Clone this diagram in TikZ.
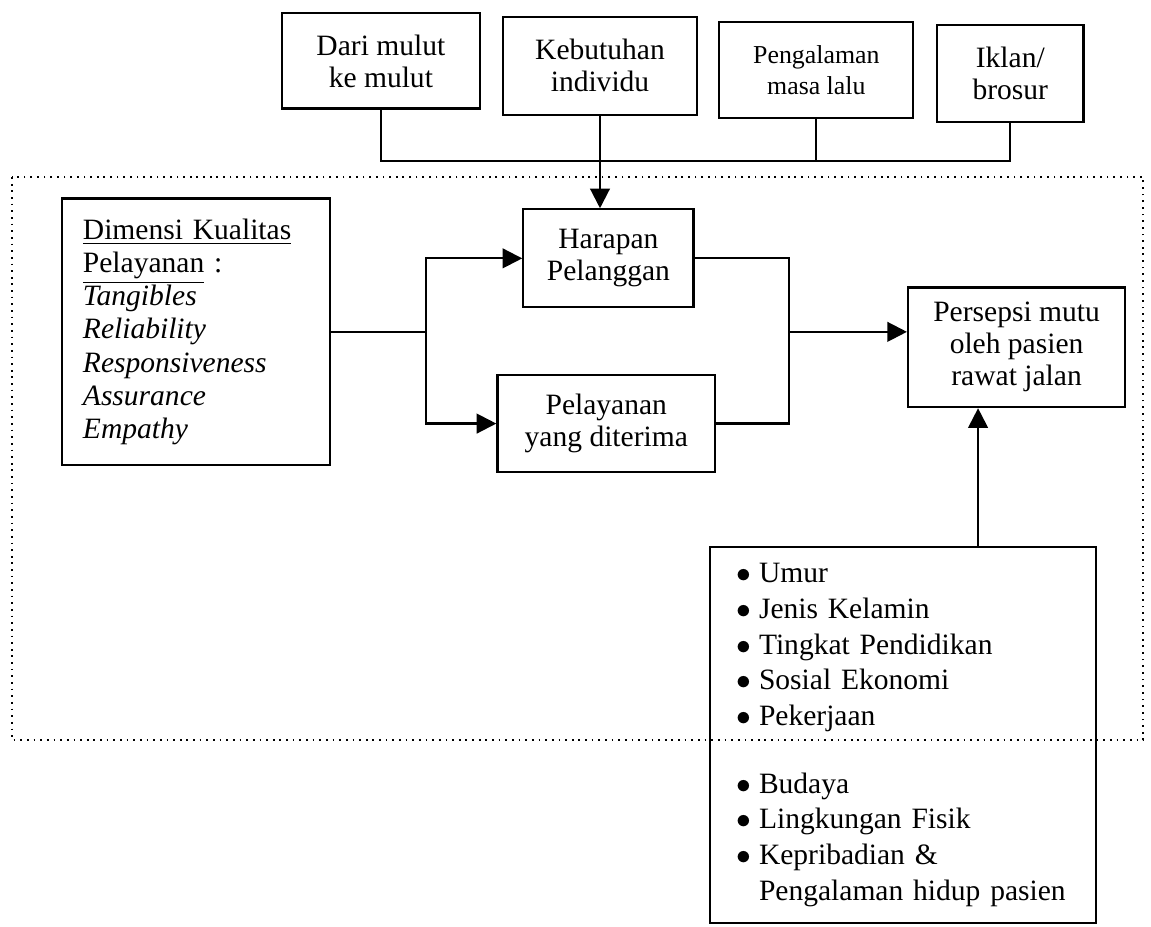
\documentclass[tikz,border=0pt]{standalone}
\usepackage{fontspec}
\setmainfont{Liberation Serif}
\usepackage{tikz}
\usetikzlibrary{arrows.meta, positioning}
\tikzset{
    box/.style={rectangle, draw, line width=0.9pt, align=center, inner sep=2pt, font=\fontsize{12}{13}\selectfont},
    line/.style={line width=0.9pt},
    arrow/.style={line width=0.9pt, -{Triangle[length=8pt, width=8pt]}},
    frame/.style={dotted, line width=0.7pt}
}
\newcommand{\butir}{$\bullet$\hspace{3pt}}

\begin{document}
\begin{tikzpicture}
        \useasboundingbox (0,0) rectangle (16.44,-13.24);

        % Sources
        \node (mulut) [box, minimum width=2.83cm, minimum height=1.36cm] at (5.44, -0.87) {Dari mulut\\ke mulut};
        \node (kebutuhan) [box, minimum width=2.77cm, minimum height=1.40cm] at (8.57, -0.94) {Kebutuhan\\individu};
        \node (pengalaman) [box, minimum width=2.77cm, minimum height=1.37cm, font=\fontsize{10.5}{12.5}\selectfont] at (11.66, -1.00) {Pengalaman\\masa lalu};
        \node (iklan) [box, minimum width=2.09cm, minimum height=1.39cm] at (14.43, -1.05) {Iklan/\\brosur};

        \draw[frame] (0.17, -2.53) rectangle (16.33, -10.57);

        \node (dimensi) [box, align=left, text width=3.23cm, inner xsep=0.3cm, minimum height=3.81cm, font=\fontsize{12}{13.5}\selectfont] at (2.80, -4.74) {\underline{Dimensi Kualitas}\\\underline{Pelayanan} :\\\textit{Tangibles}\\\textit{Reliability}\\\textit{Responsiveness}\\\textit{Assurance}\\\textit{Empathy}};
        \node (harapan) [box, minimum width=2.43cm, minimum height=1.40cm] at (8.69, -3.69) {Harapan\\Pelanggan};
        \node (pelayanan) [box, minimum width=3.11cm, minimum height=1.39cm] at (8.66, -6.05) {Pelayanan\\yang diterima};
        \node (persepsi) [box, minimum width=3.10cm, minimum height=1.71cm] at (14.52, -4.96) {Persepsi mutu\\oleh pasien\\rawat jalan};
        \node (faktor) [box, align=left, text width=4.75cm, inner xsep=0.38cm, minimum height=5.37cm, font=\fontsize{12}{14.5}\selectfont] at (12.90, -10.50) {\butir Umur\\\butir Jenis Kelamin\\\butir Tingkat Pendidikan\\\butir Sosial Ekonomi\\\butir Pekerjaan\\[13pt]\butir Budaya\\\butir Lingkungan Fisik\\\butir Kepribadian \&\\\hphantom{\butir}Pengalaman hidup pasien};

        % Sources to expectation
        \coordinate (bus) at (0, -2.30);
        \draw[line] (mulut.south) |- (bus -| iklan.south) -- (iklan.south);
        \draw[line] (pengalaman.south) -- (pengalaman.south |- bus);
        \draw[arrow] (kebutuhan.south) -- (kebutuhan.south |- harapan.north);

        % Split and merge
        \coordinate (split) at (6.09, -4.74);
        \coordinate (merge) at (11.27, -4.74);
        \draw[line] (dimensi.east) -- (split);
        \draw[arrow] (split) |- (harapan.west);
        \draw[arrow] (split) |- (pelayanan.west);
        \draw[line] (harapan.east) -| (merge);
        \draw[line] (pelayanan.east) -| (merge);
        \draw[arrow] (merge) -- (merge -| persepsi.west);

        % Factors
        \coordinate (kaki) at (13.97, -8);
        \draw[arrow] (kaki |- faktor.north) -- (kaki |- persepsi.south);

    \end{tikzpicture}
\end{document}
